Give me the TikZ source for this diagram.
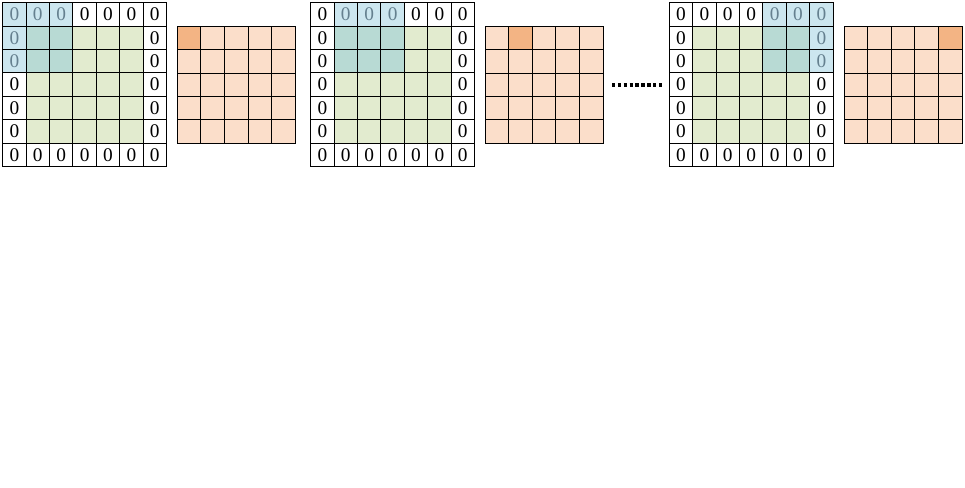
\documentclass[tikz,border=0pt]{standalone}
\usepackage{fontspec}
\setmainfont{Liberation Serif}
\usepackage{tikz}
\usetikzlibrary{positioning,calc}
\definecolor{cPad}{HTML}{FFFFFF}
\definecolor{cBlue}{HTML}{CCE6EF}
\definecolor{cTeal}{HTML}{B8DAD4}
\definecolor{cGreen}{HTML}{E2EBCF}
\definecolor{cOut}{HTML}{FBDECA}
\definecolor{cHit}{HTML}{F3B484}
\definecolor{zeroGray}{HTML}{65808F}
\tikzset{
  every picture/.append style={line width=0.75pt},
  every node/.append style={font=\fontsize{14.5}{16}\selectfont},
}
\tikzset{
  cell/.style={draw=black, minimum size=17.55pt, inner sep=0pt, outer sep=0pt},
  ocell/.style={draw=black, minimum size=17.7pt, inner sep=0pt, outer sep=0pt},
  dots/.style={line width=2.3pt, dash pattern=on 2.5pt off 1.9pt}
}

\begin{document}
\begin{tikzpicture}[x=0.75pt, y=0.75pt]

\path[fill=white, use as bounding box] (0,0) rectangle (965,487);

% padded input with the 3x3 window, then the 5x5 output
\foreach \k/\gx/\ox/\wc in {1/2.7/177.3/0, 2/310.7/485.0/1, 3/669.3/844.0/4}{
  \foreach \r in {0,...,6}{
    \foreach \c in {0,...,6}{
      \pgfmathtruncatemacro\pad{(\r==0)||(\r==6)||(\c==0)||(\c==6)}
      \pgfmathtruncatemacro\win{(\r<=2)&&(\c>=\wc)&&(\c<=\wc+2)}
      \pgfmathtruncatemacro\kind{2*\win+\pad}
      \ifcase\kind \def\fc{cGreen}\def\tc{black}\def\txt{}%
      \or \def\fc{cPad}\def\tc{black}\def\txt{0}%
      \or \def\fc{cTeal}\def\tc{black}\def\txt{}%
      \or \def\fc{cBlue}\def\tc{zeroGray}\def\txt{0}\fi
      \node[cell, fill=\fc, text=\tc] (g\k-\r-\c)
        at (\gx+\c*23.4+11.7, 484.3-\r*23.4-11.7) {\txt};
    }
  }
  \foreach \r in {0,...,4}{
    \foreach \c in {0,...,4}{
      \pgfmathtruncatemacro\hit{(\r==0)&&(\c==\wc)}
      \ifnum\hit=1 \def\fc{cHit}\else \def\fc{cOut}\fi
      \node[ocell, fill=\fc] (o\k-\r-\c)
        at (\ox+\c*23.6+11.8, 460.7-\r*23.4-11.7) {};
    }
  }
}

\coordinate (dotsL) at (612,402);
\coordinate (dotsR) at (662,402);
\draw[dots] (dotsL) -- (dotsR);

\end{tikzpicture}
\end{document}
